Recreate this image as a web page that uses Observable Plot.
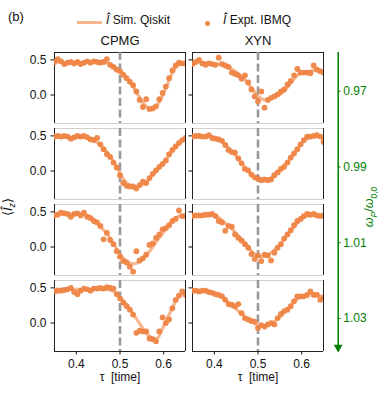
<!DOCTYPE html>
<html><head><meta charset="utf-8">
<script src="https://cdn.jsdelivr.net/npm/d3@7"></script>
<script src="https://cdn.jsdelivr.net/npm/@observablehq/plot@0.6"></script>
<style>
body{margin:0;background:#fff;font-family:"Liberation Sans",Arial,sans-serif;color:#111;}
#wrap{position:relative;width:389px;height:396px;overflow:hidden;}
.abs{position:absolute;white-space:nowrap;line-height:15px;}
#wrap svg{position:absolute;left:0;top:0;}
</style></head><body>
<div id="wrap">
  <div class="abs" style="left:8px;top:9px;font-size:13px">(b)</div>
  <div class="abs" style="left:77px;top:21px;width:25px;height:3px;background:#ef8546;opacity:0.6"></div>
  <div class="abs" style="left:106px;top:13px;font-size:12px"><i>Î</i> Sim. Qiskit</div>
  <div class="abs" style="left:204.5px;top:20.5px;width:5.6px;height:5.6px;border-radius:50%;background:#ef8546"></div>
  <div class="abs" style="left:223px;top:13px;font-size:12px"><i>Î</i> Expt. IBMQ</div>
  <div class="abs" style="left:10px;top:207px;font-size:13px;transform:translate(-50%,-50%) rotate(-90deg)">⟨<i>Î</i><sub style="font-size:9px"><i>z</i></sub>⟩</div>
  <div class="abs" style="left:372px;top:207px;font-size:12.5px;color:green;transform:translate(-50%,-50%) rotate(-90deg)"><i>ω</i><sub style="font-size:8.5px"><i>P</i></sub>/<i>ω</i><sub style="font-size:8.5px">0,0</sub></div>
</div>
<script>
const methods = ["CPMG", "XYN"];
const freqs = [0.97, 0.99, 1.01, 1.03];
const xTicks = [0.4, 0.5, 0.6];
const yTicks = [0, 0.5];
const xDomain = [0.35, 0.65];
const yDomain = [-0.405, 0.605];
const dashAt = [0.5];
const greenAxisExtent = [0.9598, 1.0376];
const greenArrowTip = [1.0376];

const tau = [0.35,0.3575,0.365,0.3725,0.38,0.3875,0.395,0.4025,0.41,0.4175,
 0.425,0.4325,0.44,0.4475,0.455,0.4625,0.47,0.4775,0.485,0.4925,
 0.5,0.5075,0.515,0.5225,0.53,0.5375,0.545,0.5525,0.56,0.5675,
 0.575,0.5825,0.59,0.5975,0.605,0.6125,0.62,0.6275,0.635,0.6425,
 0.65];

// Experimental (IBMQ) points
const exptCPMG097 = [0.47,0.51,0.48,0.44,0.46,0.47,0.45,0.47,0.44,0.46,
 0.48,0.46,0.48,0.47,0.46,0.47,0.51,0.43,0.40,0.36,
 0.34,0.29,0.24,0.19,0.14,0.05,-0.07,-0.17,-0.06,-0.20,
 -0.19,-0.16,-0.06,0.03,0.12,0.24,0.35,0.42,0.46,0.45,
 0.45];
const exptXYN097 = [0.44,0.47,0.50,0.45,0.43,0.45,0.44,0.43,0.53,0.44,
 0.42,0.40,0.32,0.30,0.28,0.23,0.28,0.18,0.08,-0.02,
 -0.09,0.05,-0.18,-0.07,-0.04,-0.02,0.01,0.05,0.08,0.15,
 0.20,0.28,0.37,0.32,0.32,0.32,0.31,0.42,0.36,0.34,
 0.32];
const exptCPMG099 = [0.49,0.50,0.49,0.50,0.49,0.46,0.48,0.50,0.49,0.50,
 0.48,0.45,0.44,0.47,0.38,0.31,0.24,0.20,0.12,0.05,
 -0.06,-0.17,-0.21,-0.22,-0.22,-0.25,-0.20,-0.15,-0.17,-0.10,
 -0.04,0.01,0.06,0.10,0.15,0.24,0.30,0.35,0.40,0.44,
 0.47];
const exptXYN099 = [0.49,0.50,0.50,0.49,0.49,0.51,0.47,0.46,0.45,0.43,
 0.37,0.30,0.27,0.26,0.18,0.11,0.03,0.01,-0.05,-0.09,
 -0.11,-0.13,-0.12,-0.13,-0.12,-0.06,-0.02,0.03,0.06,0.12,
 0.19,0.25,0.31,0.38,0.44,0.49,0.49,0.50,0.51,0.49,
 0.41];
const exptCPMG101 = [0.45,0.46,0.49,0.48,0.47,0.43,0.47,0.48,0.45,0.49,
 0.43,0.41,0.37,0.35,0.30,0.11,0.20,0.10,0.04,-0.06,
 -0.14,-0.20,-0.22,-0.28,-0.35,-0.06,-0.19,-0.16,-0.11,0.03,
 0.05,0.13,0.18,0.25,0.27,0.31,0.37,0.40,0.52,0.44,
 0.44];
const exptXYN101 = [0.44,0.45,0.45,0.45,0.46,0.46,0.47,0.44,0.37,0.35,
 0.23,0.30,0.29,0.18,0.13,0.09,0.04,-0.01,-0.10,-0.17,
 -0.12,-0.20,-0.11,-0.12,-0.19,-0.08,-0.01,0.04,0.12,0.18,
 0.24,0.31,0.37,0.40,0.44,0.47,0.46,0.47,0.45,0.44,
 0.45];
const exptCPMG103 = [0.45,0.46,0.46,0.47,0.48,0.50,0.44,0.41,0.46,0.49,
 0.48,0.46,0.49,0.49,0.50,0.49,0.51,0.50,0.49,0.41,
 0.35,0.29,0.24,0.19,0.12,-0.14,-0.11,-0.12,-0.12,-0.22,
 -0.23,-0.26,-0.12,0.08,0.00,0.05,0.21,0.33,0.39,0.45,
 0.40];
const exptXYN103 = [0.46,0.46,0.45,0.46,0.46,0.44,0.43,0.41,0.40,0.38,
 0.33,0.27,0.26,0.24,0.27,0.14,0.07,0.05,0.03,0.02,
 -0.07,-0.03,-0.05,-0.02,0.00,-0.02,0.07,0.13,0.17,0.19,
 0.24,0.31,0.38,0.38,0.38,0.40,0.45,0.40,0.40,0.33,
 0.36];

// Simulated (Qiskit) curves
const simCPMG097 = [0.47,0.47,0.46,0.46,0.47,0.47,0.46,0.46,0.46,0.47,
 0.47,0.47,0.47,0.47,0.47,0.47,0.46,0.44,0.41,0.38,
 0.34,0.30,0.25,0.19,0.12,0.04,-0.04,-0.11,-0.16,-0.19,
 -0.19,-0.16,-0.10,-0.01,0.10,0.21,0.32,0.40,0.44,0.45,
 0.45];
const simXYN097 = [0.47,0.47,0.47,0.46,0.46,0.45,0.45,0.44,0.44,0.43,
 0.42,0.40,0.37,0.34,0.30,0.26,0.22,0.16,0.10,0.04,
 -0.02,-0.05,-0.07,-0.07,-0.05,-0.03,-0.01,0.02,0.06,0.11,
 0.17,0.23,0.28,0.31,0.32,0.33,0.34,0.35,0.36,0.35,
 0.33];
const simCPMG099 = [0.48,0.48,0.48,0.48,0.48,0.48,0.48,0.48,0.48,0.48,
 0.47,0.46,0.44,0.41,0.37,0.32,0.27,0.21,0.14,0.06,
 -0.03,-0.11,-0.17,-0.20,-0.22,-0.22,-0.21,-0.19,-0.16,-0.11,
 -0.06,-0.01,0.05,0.10,0.16,0.22,0.28,0.34,0.39,0.43,
 0.46];
const simXYN099 = [0.49,0.49,0.49,0.49,0.49,0.49,0.48,0.47,0.45,0.42,
 0.38,0.33,0.28,0.23,0.17,0.11,0.05,0.00,-0.05,-0.09,
 -0.11,-0.12,-0.12,-0.12,-0.10,-0.06,-0.02,0.03,0.08,0.13,
 0.19,0.25,0.31,0.37,0.42,0.46,0.48,0.49,0.49,0.48,
 0.45];
const simCPMG101 = [0.47,0.47,0.47,0.47,0.47,0.47,0.47,0.47,0.47,0.46,
 0.45,0.43,0.39,0.35,0.30,0.24,0.19,0.12,0.05,-0.03,
 -0.10,-0.16,-0.20,-0.23,-0.24,-0.23,-0.21,-0.17,-0.12,-0.06,
 0.00,0.07,0.13,0.19,0.26,0.32,0.37,0.41,0.44,0.45,
 0.45];
const simXYN101 = [0.46,0.46,0.46,0.46,0.46,0.46,0.46,0.45,0.42,0.38,
 0.34,0.30,0.26,0.21,0.16,0.11,0.06,0.00,-0.06,-0.10,
 -0.13,-0.14,-0.13,-0.11,-0.08,-0.04,0.00,0.05,0.11,0.17,
 0.23,0.29,0.34,0.39,0.42,0.44,0.45,0.45,0.45,0.45,
 0.45];
const simCPMG103 = [0.48,0.48,0.48,0.48,0.48,0.48,0.48,0.48,0.48,0.48,
 0.48,0.48,0.48,0.48,0.48,0.48,0.48,0.47,0.45,0.42,
 0.37,0.32,0.26,0.20,0.13,0.06,-0.01,-0.08,-0.14,-0.19,
 -0.22,-0.24,-0.18,-0.08,0.03,0.12,0.22,0.31,0.38,0.43,
 0.45];
const simXYN103 = [0.46,0.46,0.46,0.46,0.46,0.45,0.44,0.42,0.40,0.37,
 0.33,0.29,0.25,0.21,0.17,0.13,0.09,0.05,0.02,-0.01,
 -0.03,-0.04,-0.04,-0.03,-0.01,0.02,0.06,0.10,0.15,0.20,
 0.25,0.30,0.34,0.37,0.39,0.41,0.42,0.42,0.41,0.39,
 0.37];

const exptSeries = [
  ["CPMG", 0.97, exptCPMG097], ["XYN", 0.97, exptXYN097],
  ["CPMG", 0.99, exptCPMG099], ["XYN", 0.99, exptXYN099],
  ["CPMG", 1.01, exptCPMG101], ["XYN", 1.01, exptXYN101],
  ["CPMG", 1.03, exptCPMG103], ["XYN", 1.03, exptXYN103]
];
const simSeries = [
  ["CPMG", 0.97, simCPMG097], ["XYN", 0.97, simXYN097],
  ["CPMG", 0.99, simCPMG099], ["XYN", 0.99, simXYN099],
  ["CPMG", 1.01, simCPMG101], ["XYN", 1.01, simXYN101],
  ["CPMG", 1.03, simCPMG103], ["XYN", 1.03, simXYN103]
];
const toRows = s => s.flatMap(([method, freq, vals]) => vals.map((v, i) => ({method, freq, tau: tau[i], val: v})));
const exptRows = toRows(exptSeries);
const simRows = toRows(simSeries);

const outerEdges = [], innerEdges = [];
for (const m of methods) for (const f of freqs) {
  (f === freqs[0] ? outerEdges : innerEdges).push({method: m, freq: f, y: yDomain[1]});
  (f === freqs[freqs.length - 1] ? outerEdges : innerEdges).push({method: m, freq: f, y: yDomain[0]});
}
const xLabels = methods.map(m => ({method: m, freq: freqs[freqs.length - 1], label: "τ  [time]"}));

const orange = "#ef8546";
const green = "green";

const main = Plot.plot({
  width: 389, height: 396,
  marginTop: 52, marginBottom: 45, marginLeft: 53, marginRight: 65,
  style: {fontFamily: "Liberation Sans, Arial, sans-serif", fontSize: "12px", background: "transparent", color: "#111"},
  x: {domain: xDomain},
  y: {domain: yDomain},
  fx: {domain: methods, paddingInner: 0.05, paddingOuter: 0, label: null},
  fy: {domain: freqs, paddingInner: 0.066, paddingOuter: 0, axis: null, label: null},
  marks: [
    Plot.ruleY(innerEdges, {fx: "method", fy: "freq", y: "y", stroke: "#d0d0d0", strokeWidth: 1}),
    Plot.ruleY(outerEdges, {fx: "method", fy: "freq", y: "y", stroke: "#222", strokeWidth: 1}),
    Plot.ruleX(xDomain, {stroke: "#222", strokeWidth: 1}),
    Plot.ruleX(dashAt, {stroke: "#999", strokeWidth: 2.6, strokeDasharray: "8,3.5"}),
    Plot.line(simRows, {fx: "method", fy: "freq", x: "tau", y: "val", stroke: orange, strokeOpacity: 0.6, strokeWidth: 3.2, clip: true}),
    Plot.dot(exptRows, {fx: "method", fy: "freq", x: "tau", y: "val", r: 2.9, fill: orange, fillOpacity: 0.95, clip: true}),
    Plot.axisY(yTicks, {tickFormat: ".1f", tickSize: 3.5, tickPadding: 4.5, facetAnchor: "left", label: null, fontSize: 12}),
    Plot.axisY(yTicks, {tickFormat: () => "", tickSize: 3.5, facetAnchor: "right", label: null}),
    Plot.axisX(xTicks, {tickFormat: ".1f", tickSize: 3.5, tickPadding: 4, facetAnchor: "bottom", label: null, fontSize: 12}),
    Plot.axisFx({anchor: "top", tickSize: 0, tickPadding: 8, label: null, fontSize: 13}),
    Plot.text(xLabels, {fx: "method", fy: "freq", text: "label", frameAnchor: "bottom", dy: 29, fontSize: 12})
  ]
});

const side = Plot.plot({
  width: 389, height: 396, margin: 0,
  style: {fontFamily: "Liberation Sans, Arial, sans-serif", background: "transparent", pointerEvents: "none"},
  x: {domain: [0, 1], range: [337.7, 340.6], axis: null},
  y: {domain: [freqs[0], freqs[freqs.length - 1]], range: [90.7, 318], axis: null},
  marks: [
    Plot.ruleX([0], {y1: greenAxisExtent[0], y2: greenAxisExtent[1], stroke: green, strokeWidth: 1.5}),
    Plot.dot(greenArrowTip, {x: 0, y: d => d, symbol: "triangle", rotate: 180, r: 3.3, fill: green}),
    Plot.ruleY(freqs, {x1: 0, x2: 1, y: d => d, stroke: green, strokeWidth: 1}),
    Plot.text(freqs, {x: 1, y: d => d, text: d => d3.format(".2f")(d), textAnchor: "start", dx: 2.2, fill: green, fontSize: 12})
  ]
});

const wrap = document.getElementById("wrap");
wrap.prepend(main);
wrap.appendChild(side);
</script>
</body></html>
